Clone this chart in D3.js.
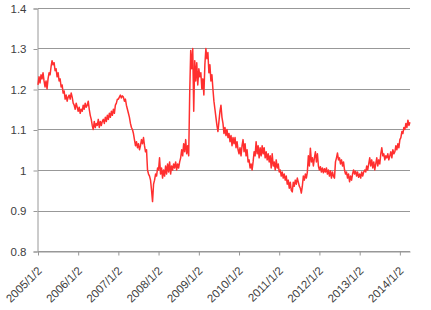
<!DOCTYPE html>
<html>
<head>
<meta charset="utf-8">
<script src="https://cdn.jsdelivr.net/npm/d3@7"></script>
<style>
  body { margin: 0; background: #fff; }
  svg { display: block; font-family: "Liberation Sans", Arial, sans-serif; }
</style>
</head>
<body>
<div id="chart"></div>
<script>
// values, about 40 per year
var y2005 = [1.21, 1.23, 1.215, 1.235, 1.225, 1.24, 1.22, 1.205, 1.22, 1.20,
  1.225, 1.24, 1.235, 1.255, 1.27, 1.26, 1.265, 1.245, 1.25, 1.23,
  1.24, 1.22, 1.225, 1.205, 1.21, 1.19, 1.195, 1.175, 1.185, 1.17,
  1.18, 1.185, 1.175, 1.19, 1.18, 1.165, 1.16, 1.15, 1.165, 1.155];
var y2006 = [1.145, 1.155, 1.14, 1.15, 1.145, 1.16, 1.15, 1.165, 1.155, 1.16,
  1.17, 1.15, 1.135, 1.125, 1.11, 1.10, 1.12, 1.105, 1.115, 1.11,
  1.125, 1.105, 1.12, 1.11, 1.12, 1.125, 1.115, 1.13, 1.12, 1.135,
  1.125, 1.14, 1.13, 1.145, 1.135, 1.15, 1.14, 1.16, 1.165, 1.175];
var y2007 = [1.175, 1.18, 1.185, 1.178, 1.183, 1.18, 1.17, 1.175, 1.16, 1.15,
  1.14, 1.13, 1.115, 1.105, 1.10, 1.09, 1.075, 1.06, 1.07, 1.055,
  1.065, 1.05, 1.06, 1.075, 1.065, 1.08, 1.06, 1.045, 1.05, 1.00,
  0.99, 0.985, 0.975, 0.95, 0.922, 0.965, 0.975, 0.99, 0.985, 1.005];
var y2008 = [1.00, 1.03, 0.99, 1.005, 0.98, 1.00, 0.985, 1.01, 0.99, 1.015,
  0.995, 1.02, 0.99, 1.01, 1.00, 1.015, 1.005, 1.02, 1.00, 1.015,
  1.005, 1.02, 1.03, 1.05, 1.035, 1.065, 1.045, 1.075, 1.04, 1.06,
  1.035, 1.19, 1.295, 1.25, 1.30, 1.145, 1.27, 1.22, 1.265, 1.21];
var y2009 = [1.25, 1.23, 1.24, 1.20, 1.225, 1.185, 1.26, 1.30, 1.275, 1.29,
  1.24, 1.26, 1.22, 1.235, 1.20, 1.17, 1.15, 1.13, 1.11, 1.095,
  1.12, 1.145, 1.16, 1.13, 1.115, 1.09, 1.105, 1.085, 1.10, 1.08,
  1.09, 1.07, 1.085, 1.06, 1.08, 1.065, 1.08, 1.055, 1.07, 1.05];
var y2010 = [1.04, 1.055, 1.035, 1.06, 1.075, 1.045, 1.065, 1.035, 1.05, 1.02,
  1.025, 1.005, 1.015, 1.00, 1.02, 1.045, 1.035, 1.07, 1.04, 1.06,
  1.03, 1.055, 1.035, 1.06, 1.04, 1.055, 1.03, 1.045, 1.025, 1.04,
  1.02, 1.035, 1.005, 1.04, 1.01, 1.02, 1.00, 1.025, 1.005, 1.015];
var y2011 = [0.995, 1.00, 0.985, 0.995, 0.98, 0.99, 0.975, 0.985, 0.965, 0.975,
  0.955, 0.97, 0.95, 0.946, 0.97, 0.96, 0.975, 0.965, 0.98, 0.97,
  0.96, 0.955, 0.943, 0.96, 0.985, 0.975, 0.99, 0.98, 0.995, 1.035,
  1.01, 1.054, 1.02, 1.03, 1.01, 1.03, 1.045, 1.02, 1.04, 1.01];
var y2012 = [1.00, 1.008, 0.995, 1.005, 0.993, 1.003, 0.995, 1.005, 0.99, 1.00,
  0.985, 0.998, 0.98, 0.995, 0.985, 0.98, 1.02, 1.03, 1.042, 1.025,
  1.03, 1.015, 1.025, 1.01, 1.02, 1.00, 0.99, 0.995, 0.98, 0.99,
  0.971, 0.985, 0.975, 0.99, 1.00, 0.99, 0.997, 0.985, 0.995, 0.982];
var y2013 = [0.99, 0.98, 0.995, 0.985, 0.995, 1.00, 0.995, 1.01, 1.00, 1.015,
  1.03, 1.01, 1.025, 1.005, 1.02, 1.00, 1.015, 1.03, 1.01, 1.025,
  1.015, 1.04, 1.055, 1.035, 1.04, 1.025, 1.035, 1.03, 1.04, 1.025,
  1.035, 1.045, 1.03, 1.05, 1.04, 1.045, 1.06, 1.05, 1.065, 1.055];
var y2014 = [1.075, 1.08, 1.095, 1.09, 1.105, 1.10, 1.115, 1.105, 1.123, 1.11, 1.118];

var years = [2005, 2006, 2007, 2008, 2009, 2010, 2011, 2012, 2013, 2014];
var yearValues = [y2005, y2006, y2007, y2008, y2009, y2010, y2011, y2012, y2013, y2014];
var yTicks = [0.8, 0.9, 1, 1.1, 1.2, 1.3, 1.4];
var xTickLabels = ["2005/1/2", "2006/1/2", "2007/1/2", "2008/1/2", "2009/1/2",
  "2010/1/2", "2011/1/2", "2012/1/2", "2013/1/2", "2014/1/2"];

// build dated points, spread evenly over each year
var stepDays = 365.25 / 40;
var data = [];
years.forEach(function (yr, k) {
  var start = new Date(yr, 0, 2);
  yearValues[k].forEach(function (v, i) {
    data.push({ date: new Date(+start + i * stepDays * 864e5), value: v });
  });
});

var W = 431, H = 310;
var margin = { top: 8, right: 21, bottom: 59, left: 38 };

var svg = d3.select("#chart").append("svg")
  .attr("width", W).attr("height", H);

var x = d3.scaleTime()
  .domain([new Date(2005, 0, 2), new Date(2014, 3, 4)])
  .range([margin.left, W - margin.right]);

var y = d3.scaleLinear()
  .domain([0.8, 1.4])
  .range([H - margin.bottom, margin.top]);

var gridColor = "#989898";
var textColor = "#404040";

// horizontal gridlines
svg.append("g")
  .selectAll("line")
  .data(yTicks)
  .enter()
  .append("line")
  .attr("x1", margin.left)
  .attr("x2", W - margin.right)
  .attr("y1", function (d) { return Math.round(y(d)) + 0.5; })
  .attr("y2", function (d) { return Math.round(y(d)) + 0.5; })
  .attr("stroke", gridColor)
  .attr("stroke-width", 1);

// y axis
var yAxis = svg.append("g")
  .attr("transform", "translate(" + (margin.left - 0.5) + ",0.5)")
  .call(d3.axisLeft(y).tickValues(yTicks).tickSize(4).tickPadding(7)
    .tickFormat(function (d) { return String(+d.toFixed(1)); }));
yAxis.select(".domain").attr("stroke", gridColor);
yAxis.selectAll(".tick line").attr("stroke", gridColor);
yAxis.selectAll(".tick text")
  .attr("fill", textColor)
  .style("font-size", "11.5px");

// x axis
var xTickDates = years.map(function (yr) { return new Date(yr, 0, 2); });
var xAxis = svg.append("g")
  .attr("transform", "translate(0," + (Math.round(y(0.8)) + 0.5) + ")")
  .call(d3.axisBottom(x).tickValues(xTickDates).tickSize(4).tickSizeOuter(0)
    .tickFormat(function (d, i) { return xTickLabels[i]; }));
xAxis.select(".domain").attr("stroke", gridColor);
xAxis.selectAll(".tick line").attr("stroke", gridColor);
xAxis.selectAll(".tick text")
  .attr("fill", textColor)
  .style("font-size", "11.5px")
  .attr("text-anchor", "end")
  .attr("dy", null)
  .attr("y", 0)
  .attr("transform", "translate(4,20) rotate(-45)");

// the series
var line = d3.line()
  .x(function (d) { return x(d.date); })
  .y(function (d) { return y(d.value); });

svg.append("path")
  .datum(data)
  .attr("fill", "none")
  .attr("stroke", "#ff2f2f")
  .attr("stroke-width", 1.5)
  .attr("stroke-linejoin", "round")
  .attr("d", line);
</script>
</body>
</html>
